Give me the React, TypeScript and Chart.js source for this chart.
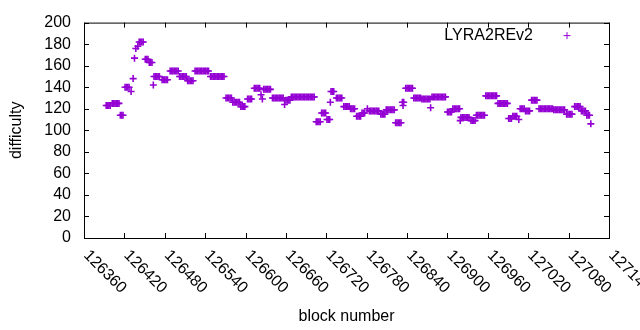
import { useEffect, useRef } from "react";
import { Chart, registerables } from "chart.js";

Chart.register(...registerables);

const seriesName = "LYRA2REv2";
const xTitle = "block number";
const yTitle = "difficulty";
const xTicks = [126360, 126420, 126480, 126540, 126600, 126660, 126720, 126780, 126840, 126900, 126960, 127020, 127080, 127140];
const yTicks = [0, 20, 40, 60, 80, 100, 120, 140, 160, 180, 200];

const blocks = [
  126393, 126395, 126397, 126399,
  126402, 126404, 126406, 126408, 126410, 126412,
  126414, 126416, 126418,
  126421, 126423, 126425, 126427, 126430,
  126433, 126435, 126437, 126440, 126442, 126444, 126446, 126448,
  126451, 126453, 126455, 126457, 126459, 126461, 126463,
  126464, 126466, 126468, 126470, 126472,
  126476, 126478, 126480, 126482, 126484,
  126488, 126490, 126492, 126494, 126496, 126498, 126500,
  126502, 126504, 126506, 126508, 126510, 126512,
  126514, 126516, 126518, 126520, 126522,
  126525, 126527, 126529, 126531, 126533, 126535, 126537, 126539, 126541, 126543, 126545,
  126548, 126550, 126552, 126554, 126556, 126558, 126560, 126562, 126564, 126566, 126568,
  126571, 126573, 126575, 126577, 126579,
  126581, 126583, 126585, 126587, 126589, 126591,
  126593, 126595, 126597, 126599,
  126603, 126605, 126607, 126609,
  126613, 126615, 126617, 126619, 126621,
  126623, 126625,
  126627, 126629, 126631, 126633, 126635, 126637,
  126640, 126642, 126644, 126646, 126648, 126650, 126652, 126654, 126656,
  126658, 126660, 126662, 126664, 126666,
  126668, 126670, 126672, 126674, 126676, 126678, 126680, 126682, 126684, 126686, 126688, 126690, 126692, 126694, 126696, 126698, 126700, 126702,
  126705, 126707, 126709, 126711,
  126713, 126715, 126717, 126719,
  126721, 126723, 126725,
  126726, 126727, 126729, 126731,
  126735, 126737, 126739, 126741, 126743,
  126746, 126748, 126750, 126752, 126754,
  126756, 126758, 126760, 126762,
  126765, 126767, 126769, 126771,
  126773, 126775, 126777, 126781,
  126784, 126786, 126788, 126790, 126792, 126794, 126796, 126798,
  126801, 126803, 126805, 126807,
  126809, 126811, 126813, 126815, 126817, 126819, 126821,
  126823, 126825, 126827, 126829, 126831,
  126833, 126834, 126835,
  126838, 126840, 126842, 126844, 126846, 126848,
  126850, 126852, 126854, 126856, 126858, 126860,
  126862, 126864, 126866, 126868, 126870, 126872, 126874,
  126875,
  126877, 126879, 126881, 126883, 126885, 126887, 126889, 126891, 126893, 126895, 126897,
  126900, 126902, 126904, 126906,
  126908, 126910, 126912, 126914, 126916, 126918,
  126919, 126920, 126922, 126924, 126926, 126928, 126930, 126932,
  126935, 126937, 126939, 126941,
  126943, 126945, 126947, 126949, 126951, 126953, 126955,
  126957, 126959, 126961, 126963, 126965, 126967, 126969, 126971, 126973,
  126975, 126977, 126979, 126981, 126983, 126985, 126987, 126989,
  126991, 126993, 126995,
  126997, 126999, 127001, 127003, 127006,
  127008, 127010, 127012, 127014,
  127016, 127018, 127020, 127022,
  127025, 127027, 127029, 127031, 127033,
  127036, 127038, 127040, 127042, 127044, 127046, 127048, 127050, 127052, 127054, 127056,
  127058, 127060, 127062, 127064, 127066, 127068, 127070, 127072, 127074,
  127077, 127079, 127081, 127083, 127085,
  127089, 127091, 127093, 127095, 127097,
  127099, 127101, 127103, 127105,
  127107, 127109, 127111,
  127113,
];

const difficulty = [
  123, 123, 123, 123,
  125, 125, 125, 125, 125, 125,
  114, 114, 114,
  140, 140, 140, 140, 136,
  148, 167, 176, 178, 182, 182, 182, 182,
  166, 166, 166, 163, 163, 163, 142,
  150, 150, 150, 150, 150,
  147, 147, 147, 147, 147,
  155, 155, 155, 155, 155, 155, 155,
  150, 150, 150, 150, 150, 150,
  146, 146, 146, 146, 146,
  155, 155, 155, 155, 155, 155, 155, 155, 155, 155, 155,
  150, 150, 150, 150, 150, 150, 150, 150, 150, 150, 150,
  130, 130, 130, 130, 130,
  126, 126, 126, 126, 126, 126,
  122, 122, 122, 122,
  129, 129, 129, 129,
  139, 139, 139, 139, 139,
  133, 129,
  138, 138, 138, 138, 138, 138,
  130, 130, 130, 130, 130, 130, 130, 130, 130,
  124, 128, 128, 128, 128,
  131, 131, 131, 131, 131, 131, 131, 131, 131, 131, 131, 131, 131, 131, 131, 131, 131, 131,
  108, 108, 108, 108,
  116, 116, 116, 116,
  110, 110, 110,
  126, 136, 136, 136,
  130, 130, 130, 130, 130,
  122, 122, 122, 122, 122,
  120, 120, 120, 120,
  113, 113, 113, 113,
  116, 116, 116, 120,
  118, 118, 118, 118, 118, 118, 118, 118,
  115, 115, 115, 115,
  119, 119, 119, 119, 119, 119, 119,
  107, 107, 107, 107, 107,
  126, 123, 126,
  139, 139, 139, 139, 139, 139,
  130, 130, 130, 130, 130, 130,
  129, 129, 129, 129, 129, 129, 129,
  121,
  131, 131, 131, 131, 131, 131, 131, 131, 131, 131, 131,
  117, 117, 117, 117,
  120, 120, 120, 120, 120, 120,
  109, 112, 112, 112, 112, 112, 112, 112,
  109, 109, 109, 109,
  114, 114, 114, 114, 114, 114, 114,
  132, 132, 132, 132, 132, 132, 132, 132, 132,
  125, 125, 125, 125, 125, 125, 125, 125,
  111, 111, 111,
  113, 113, 113, 113, 110,
  120, 120, 120, 120,
  118, 118, 118, 118,
  128, 128, 128, 128, 128,
  120, 120, 120, 120, 120, 120, 120, 120, 120, 120, 120,
  119, 119, 119, 119, 119, 119, 119, 119, 119,
  115, 115, 115, 115, 115,
  122, 122, 122, 122, 122,
  118, 118, 118, 118,
  114, 114, 114,
  106,
];

const COLOR = "#9400d3";
const FAMILY = "'Liberation Sans', Arial, sans-serif";
const FONT = `16px ${FAMILY}`;

const framePlugin = {
  id: "gnuFrame",
  afterDraw(chart: any) {
    const { ctx, chartArea } = chart;
    const { left, top, right, bottom } = chartArea;
    const xs = chart.scales.x;
    const ys = chart.scales.y;
    ctx.save();
    ctx.strokeStyle = "#000";
    ctx.lineWidth = 1;
    ctx.strokeRect(left + 0.5, top + 0.5, right - left, bottom - top);
    const tl = 5;
    ctx.beginPath();
    for (const v of yTicks) {
      const py = Math.round(ys.getPixelForValue(v)) + 0.5;
      ctx.moveTo(left, py);
      ctx.lineTo(left + tl, py);
      ctx.moveTo(right, py);
      ctx.lineTo(right - tl, py);
    }
    for (const v of xTicks) {
      const px = Math.round(xs.getPixelForValue(v)) + 0.5;
      ctx.moveTo(px, bottom);
      ctx.lineTo(px, bottom - tl);
      ctx.moveTo(px, top);
      ctx.lineTo(px, top + tl);
    }
    ctx.stroke();

    ctx.fillStyle = "#000";
    ctx.font = FONT;
    for (const v of xTicks) {
      const px = xs.getPixelForValue(v);
      ctx.save();
      ctx.translate(px + 2, bottom + 15);
      ctx.rotate(Math.PI / 4);
      ctx.textAlign = "left";
      ctx.textBaseline = "middle";
      ctx.fillText(String(v), 0, 0);
      ctx.restore();
    }

    // legend (gnuplot style: text then sample)
    ctx.textAlign = "right";
    ctx.textBaseline = "middle";
    ctx.fillText(seriesName, right - 76, top + 13);
    ctx.strokeStyle = COLOR;
    ctx.lineWidth = 1;
    const cx = right - 42;
    const cy = top + 13;
    ctx.beginPath();
    ctx.moveTo(cx - 3.5, cy);
    ctx.lineTo(cx + 3.5, cy);
    ctx.moveTo(cx, cy - 3.5);
    ctx.lineTo(cx, cy + 3.5);
    ctx.stroke();
    ctx.restore();
  },
};

export default function App() {
  const ref = useRef<HTMLCanvasElement | null>(null);
  useEffect(() => {
    if (!ref.current) return;
    Chart.defaults.font.family = FAMILY;
    const chart = new Chart(ref.current, {
      type: "scatter",
      data: {
        datasets: [
          {
            label: seriesName,
            data: blocks.map((b, i) => ({ x: b, y: difficulty[i] })),
            pointStyle: "cross",
            pointRadius: 3.5,
            pointBorderWidth: 1.6,
            borderColor: COLOR,
            backgroundColor: COLOR,
            showLine: false,
          },
        ],
      },
      options: {
        animation: false,
        responsive: false,
        devicePixelRatio: 1,
        events: [],
        layout: { padding: { left: 0, top: 19, right: 31, bottom: 0 } },
        plugins: { legend: { display: false }, tooltip: { enabled: false } },
        scales: {
          x: {
            type: "linear",
            min: 126360,
            max: 127140,
            grid: { display: false, drawTicks: false },
            border: { display: false },
            ticks: { display: false, stepSize: 60 },
            title: {
              display: true,
              text: xTitle,
              color: "#000",
              font: { size: 16, family: FAMILY },
              padding: { top: 0, bottom: 4 },
            },
            afterFit(scale: any) {
              scale.height = 92;
            },
          },
          y: {
            min: 0,
            max: 200,
            grid: { display: false, drawTicks: false },
            border: { display: false },
            ticks: {
              stepSize: 20,
              autoSkip: false,
              color: "#000",
              padding: 13,
              font: { size: 16, family: FAMILY },
            },
            title: {
              display: true,
              text: yTitle,
              color: "#000",
              font: { size: 16, family: FAMILY },
              padding: { top: 7, bottom: 0 },
            },
            afterFit(scale: any) {
              scale.width = 84;
            },
          },
        },
      },
      plugins: [framePlugin],
    });
    return () => chart.destroy();
  }, []);
  return (
    <div style={{ position: "absolute", left: 0, top: 0, width: 640, height: 330, background: "#fff" }}>
      <canvas ref={ref} width={640} height={330} style={{ width: 640, height: 330 }} />
    </div>
  );
}
